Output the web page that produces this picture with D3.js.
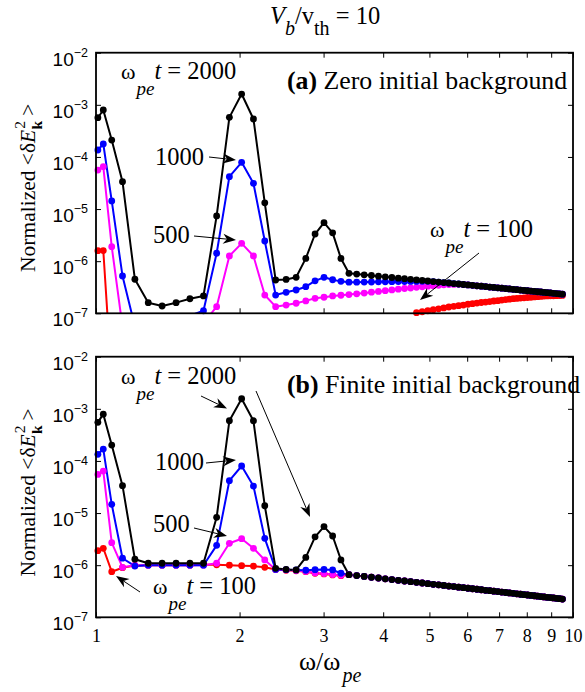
<!DOCTYPE html>
<html>
<head>
<meta charset="utf-8">
<script src="https://cdn.jsdelivr.net/npm/d3@7"></script>
<style>
  html, body { margin: 0; padding: 0; background: #fff; }
  svg { display: block; }
</style>
</head>
<body>
<svg id="chart" width="585" height="692"></svg>
<script>
// Frequency grid, omega / omega_pe
const omega = [
  1.0091, 1.0358, 1.0789, 1.1365, 1.2065, 1.2869, 1.3759, 1.4719, 1.5736, 1.6800,
  1.7903, 1.9038, 2.0199, 2.1383, 2.2585, 2.3802, 2.5034, 2.6277, 2.7531, 2.8792,
  3.0062, 3.1338, 3.2621, 3.3908, 3.5200, 3.6497, 3.7797, 3.9100, 4.0407, 4.1716,
  4.3029, 4.4342, 4.5659, 4.6977, 4.8297, 4.9618, 5.0941, 5.2266, 5.3591, 5.4918,
  5.6246, 5.7576, 5.8905, 6.0236, 6.1568, 6.2900, 6.4233, 6.5567, 6.6901, 6.8236,
  6.9573, 7.0909, 7.2246, 7.3582, 7.4920, 7.6258, 7.7597, 7.8936, 8.0275, 8.1615,
  8.2955, 8.4295, 8.5636, 8.6977, 8.8318, 8.9659, 9.1001, 9.2342, 9.3684, 9.5026
];

// (a) zero initial background: common high-frequency tail (points 24..70)
const topTail = [
  5.85e-7, 5.66e-7, 5.48e-7, 5.31e-7, 5.16e-7, 5.00e-7, 4.86e-7, 4.73e-7, 4.61e-7, 4.49e-7,
  4.37e-7, 4.27e-7, 4.17e-7, 4.07e-7, 3.98e-7, 3.89e-7, 3.81e-7, 3.72e-7, 3.65e-7, 3.57e-7,
  3.50e-7, 3.44e-7, 3.37e-7, 3.31e-7, 3.25e-7, 3.19e-7, 3.13e-7, 3.08e-7, 3.03e-7, 2.98e-7,
  2.93e-7, 2.88e-7, 2.84e-7, 2.79e-7, 2.75e-7, 2.71e-7, 2.67e-7, 2.63e-7, 2.59e-7, 2.56e-7,
  2.52e-7, 2.49e-7, 2.46e-7, 2.42e-7, 2.39e-7, 2.36e-7, 2.33e-7
];
const topT2000 = [
  5.66e-4, 7.96e-4, 2.11e-4, 3.35e-5, 4.5e-7, 1.6e-7, 1.38e-7, 1.6e-7, 1.9e-7, 2.15e-7,
  7.4e-6, 5.75e-4, 1.61e-3, 5.35e-4, 1.32e-5, 4.35e-7, 4.47e-7, 4.9e-7, 1.13e-6, 3.32e-6,
  5.47e-6, 3.5e-6, 1.13e-6
].concat(topTail);
const topT1000 = [
  1.36e-4, 1.77e-4, 1.43e-5, 5.2e-7, 5.6e-8, null, null, null, 9e-8, 1.12e-7,
  1.42e-6, 4.18e-5, 7.9e-5, 3.12e-5, 2.44e-6, 2.24e-7, 2.53e-7, 2.8e-7, 3.24e-7, 4.2e-7,
  4.9e-7, 4.4e-7, 4.1e-7, 3.95e-7, 3.95e-7, 3.97e-7, 3.99e-7, 4.01e-7, 4.03e-7, 4.05e-7,
  4.06e-7, 4.07e-7, 4.08e-7, 4.09e-7, 4.1e-7, 4.1e-7
].concat(topTail.slice(13));
const topT500 = [
  5.6e-5, 6.5e-5, 1.9e-6, 5.5e-8, null, null, null, null, null, 6.5e-8,
  1.34e-7, 1.26e-6, 2.2e-6, 1.26e-6, 2.24e-7, 1.34e-7, 1.44e-7, 1.56e-7, 1.73e-7, 1.94e-7,
  2.03e-7, 2.15e-7, 2.22e-7, 2.29e-7, 2.36e-7, 2.44e-7, 2.54e-7, 2.63e-7, 2.72e-7, 2.81e-7,
  2.90e-7, 2.99e-7, 3.06e-7, 3.15e-7, 3.23e-7, 3.31e-7, 3.39e-7, 3.45e-7, 3.52e-7, 3.56e-7,
  3.58e-7, 3.6e-7
].concat(topTail.slice(19));
const topT100 = [
  1.59e-6, 1.6e-6, 5e-9, null, null, null, null, null, null, null,
  null, null, null, null, null, null, null, null, null, null,
  null, null, null, null, null, null, null, null, null, null,
  null, null, null, 1.03e-7, 1.07e-7, 1.12e-7, 1.17e-7, 1.22e-7, 1.27e-7, 1.32e-7,
  1.36e-7, 1.40e-7, 1.44e-7, 1.49e-7, 1.53e-7, 1.57e-7, 1.61e-7, 1.64e-7, 1.68e-7, 1.72e-7,
  1.75e-7, 1.79e-7, 1.83e-7, 1.87e-7, 1.91e-7, 1.93e-7, 1.96e-7, 1.98e-7, 2.01e-7, 2.03e-7,
  2.06e-7, 2.08e-7, 2.11e-7, 2.14e-7, 2.15e-7, 2.16e-7, 2.17e-7, 2.18e-7, 2.19e-7, 2.2e-7
];

// (b) finite initial background: common high-frequency tail (points 24..70)
const botTail = [
  6.58e-7, 6.33e-7, 6.09e-7, 5.87e-7, 5.67e-7, 5.48e-7, 5.30e-7, 5.13e-7, 4.97e-7, 4.82e-7,
  4.68e-7, 4.55e-7, 4.42e-7, 4.30e-7, 4.19e-7, 4.08e-7, 3.98e-7, 3.88e-7, 3.79e-7, 3.70e-7,
  3.61e-7, 3.53e-7, 3.45e-7, 3.38e-7, 3.30e-7, 3.24e-7, 3.17e-7, 3.11e-7, 3.05e-7, 2.99e-7,
  2.93e-7, 2.88e-7, 2.82e-7, 2.77e-7, 2.72e-7, 2.68e-7, 2.63e-7, 2.59e-7, 2.54e-7, 2.50e-7,
  2.46e-7, 2.42e-7, 2.39e-7, 2.35e-7, 2.31e-7, 2.28e-7, 2.24e-7
];
const botT2000 = [
  5.5e-4, 7.9e-4, 2.02e-4, 3.35e-5, 1.3e-6, 1.09e-6, 1.09e-6, 1.09e-6, 1.09e-6, 1.09e-6,
  8.3e-6, 5.9e-4, 1.56e-3, 5.9e-4, 1.38e-5, 8.7e-7, 8.3e-7, 8.1e-7, 1.41e-6, 3.5e-6,
  5.5e-6, 3.63e-6, 1.26e-6
].concat(botTail);
const botT1000 = [
  1.34e-4, 1.69e-4, 1.47e-5, 1.36e-6, 9.6e-7, 1.0e-6, 1.0e-6, 1.0e-6, 1.0e-6, 1.0e-6,
  2.4e-6, 4.18e-5, 8.0e-5, 3.3e-5, 3.27e-6, 8.3e-7, 8.2e-7, 8.1e-7, 8.0e-7, 8.2e-7,
  8.3e-7, 8.1e-7, 7.0e-7
].concat(botTail);
const botT500 = [
  5.5e-5, 6.4e-5, 2.7e-6, 9.1e-7, 1.0e-6, 1.0e-6, 1.0e-6, 1.0e-6, 1.0e-6, 1.0e-6,
  1.09e-6, 2.63e-6, 3.22e-6, 2.11e-6, 1.26e-6, 8.3e-7, 8.1e-7, 7.9e-7, 7.6e-7, 7.1e-7,
  6.9e-7, 6.6e-7, 6.4e-7
].concat(botTail);
const botT100 = [
  1.9e-6, 2.11e-6, 7.5e-7, 8.95e-7, 9.8e-7, 1.0e-6, 1.0e-6, 1.0e-6, 1.0e-6, 1.02e-6,
  1.02e-6, 1.0e-6, 9.8e-7, 9.6e-7, 9.1e-7, 8.3e-7, 8.0e-7, 7.8e-7, 7.5e-7, 7.0e-7,
  6.8e-7, 6.5e-7, 6.3e-7
].concat(botTail);

const xTicks = [1, 2, 3, 4, 5, 6, 7, 8, 9, 10];
const yTicks = [1e-7, 1e-6, 1e-5, 1e-4, 1e-3, 1e-2];
const yTickExps = ["−7", "−6", "−5", "−4", "−3", "−2"];

const SERIF = "'Liberation Serif', 'Times New Roman', serif";
const SANS = "'Liberation Sans', Arial, sans-serif";

const svg = d3.select("#chart");
const x = d3.scaleLog().domain([1, 10]).range([96, 573]);

// Draw a MATLAB-style annotation arrow with a notched filled head
function arrow(g, x1, y1, x2, y2, headLen = 13, headW = 5) {
  const a = Math.atan2(y2 - y1, x2 - x1);
  const c = Math.cos(a), s = Math.sin(a);
  const bx = x2 - headLen * c, by = y2 - headLen * s;
  const nx = x2 - headLen * 0.7 * c, ny = y2 - headLen * 0.7 * s;
  g.append("line").attr("x1", x1).attr("y1", y1).attr("x2", nx).attr("y2", ny)
    .attr("stroke", "#000").attr("stroke-width", 1);
  g.append("path")
    .attr("d", `M${x2},${y2}L${bx - headW * s},${by + headW * c}L${nx},${ny}L${bx + headW * s},${by - headW * c}Z`)
    .attr("fill", "#000");
}

function omegaLabel(g, tx, ty, tail) {
  const t = g.append("text").attr("x", tx).attr("y", ty)
    .attr("font-family", SERIF).attr("font-size", 24.5).attr("fill", "#000");
  t.append("tspan").attr("font-size", 22).text("ω");
  t.append("tspan").attr("font-style", "italic").attr("font-size", 19).attr("dy", 16).attr("dx", 1).text("pe");
  t.append("tspan").attr("font-style", "italic").attr("dy", -16).text("t");
  t.append("tspan").text(" = " + tail);
}

function panel(y0, y1, series, opts) {
  const y = d3.scaleLog().domain([1e-7, 1e-2]).range([y1, y0]);
  const g = svg.append("g");
  const clipId = "clip" + opts.id;
  svg.append("defs").append("clipPath").attr("id", clipId)
    .append("rect").attr("x", 96).attr("y", y0).attr("width", 477).attr("height", y1 - y0);

  // inward ticks on all four sides
  const tickStyle = sel => {
    sel.select(".domain").remove();
    sel.selectAll(".tick line").attr("stroke", "#000").attr("stroke-width", 1);
  };
  g.append("g").attr("transform", `translate(0,${y1})`)
    .call(d3.axisBottom(x).tickValues(xTicks).tickSize(-5).tickFormat(opts.xLabels ? d3.format("d") : ""))
    .call(tickStyle)
    .call(s => s.selectAll(".tick text").attr("font-family", SERIF).attr("font-size", 18)
      .attr("fill", "#000").attr("y", 12).attr("dy", "0.71em"));
  g.append("g").attr("transform", `translate(0,${y0})`)
    .call(d3.axisTop(x).tickValues(xTicks).tickSize(-5).tickFormat(""))
    .call(tickStyle);
  const yl = g.append("g").attr("transform", "translate(96,0)")
    .call(d3.axisLeft(y).tickValues(yTicks).tickSize(-5).tickFormat(""))
    .call(tickStyle);
  g.append("g").attr("transform", "translate(573,0)")
    .call(d3.axisRight(y).tickValues(yTicks).tickSize(-5).tickFormat(""))
    .call(tickStyle);

  // decade labels 10^n
  yl.selectAll(".tick").each(function (d, i) {
    const t = d3.select(this).append("text")
      .attr("x", -8).attr("y", 12.5).attr("text-anchor", "end")
      .attr("font-family", SANS).attr("font-size", 19).attr("fill", "#000");
    t.append("tspan").text("10");
    t.append("tspan").attr("font-size", 12.5).attr("dy", -9).text(yTickExps[i]);
  });

  // data
  const plot = g.append("g").attr("clip-path", `url(#${clipId})`);
  const line = d3.line()
    .defined(d => d.v != null)
    .x(d => x(d.w)).y(d => y(d.v));
  series.forEach(sr => {
    const pts = omega.map((w, i) => ({ w, v: sr.values[i] }));
    plot.append("path").datum(pts).attr("d", line)
      .attr("fill", "none").attr("stroke", sr.color).attr("stroke-width", 2)
      .attr("stroke-linejoin", "round");
    g.append("g").selectAll("circle")
      .data(pts.filter(d => d.v != null && d.v >= 1e-7))
      .join("circle")
      .attr("cx", d => x(d.w)).attr("cy", d => y(d.v)).attr("r", 3.4)
      .attr("fill", sr.color);
  });

  // frame
  g.append("rect").attr("x", 96).attr("y", y0).attr("width", 477).attr("height", y1 - y0)
    .attr("fill", "none").attr("stroke", "#000").attr("stroke-width", 1.8);

  // y-axis title
  const yt = g.append("text")
    .attr("transform", `translate(34.5,${opts.yLabelStart}) rotate(-90)`)
    .attr("font-family", SERIF).attr("font-size", 21.5).attr("fill", "#000");
  yt.append("tspan").text("Normalized <δ");
  yt.append("tspan").attr("font-style", "italic").text("E");
  yt.append("tspan").attr("font-size", 15.5).attr("dy", -10).attr("dx", 1).text("2");
  yt.append("tspan").attr("font-size", 15.5).attr("font-weight", "bold").attr("dy", 17).attr("dx", -8.5).text("k");
  yt.append("tspan").attr("dy", -7).attr("dx", 5).text(">");

  return { g, y };
}

const panelA = panel(52.7, 313.3, [
  { color: "#ff0000", values: topT100 },
  { color: "#ff00ff", values: topT500 },
  { color: "#0000ff", values: topT1000 },
  { color: "#000000", values: topT2000 }
], { id: "a", xLabels: false, yLabelStart: 272 });

const panelB = panel(356.7, 617.3, [
  { color: "#ff0000", values: botT100 },
  { color: "#ff00ff", values: botT500 },
  { color: "#0000ff", values: botT1000 },
  { color: "#000000", values: botT2000 }
], { id: "b", xLabels: true, yLabelStart: 576.6 });

// Panel (a) annotations
const ga = svg.append("g");
omegaLabel(ga, 121, 79, "2000");
const ta = ga.append("text").attr("x", 287).attr("y", 88.5)
  .attr("font-family", SERIF).attr("font-size", 25.8).attr("fill", "#000");
ta.append("tspan").attr("font-weight", "bold").text("(a)");
ta.append("tspan").text(" Zero initial background");
ga.append("text").attr("x", 155).attr("y", 165).attr("font-family", SERIF).attr("font-size", 24.5).text("1000");
arrow(ga, 209, 157, 236, 160);
ga.append("text").attr("x", 153).attr("y", 243).attr("font-family", SERIF).attr("font-size", 24.5).text("500");
arrow(ga, 194, 236, 236, 240);
omegaLabel(ga, 430, 237, "100");
arrow(ga, 479, 253, 420, 300);

// Panel (b) annotations
const gb = svg.append("g");
omegaLabel(gb, 121, 383.5, "2000");
const tb = gb.append("text").attr("x", 287).attr("y", 393)
  .attr("font-family", SERIF).attr("font-size", 25.8).attr("fill", "#000");
tb.append("tspan").attr("font-weight", "bold").text("(b)");
tb.append("tspan").text(" Finite initial background");
arrow(gb, 201, 396, 227, 408.5);
arrow(gb, 256, 391, 310, 517);
gb.append("text").attr("x", 155).attr("y", 470).attr("font-family", SERIF).attr("font-size", 24.5).text("1000");
arrow(gb, 206, 463, 236, 460);
gb.append("text").attr("x", 153).attr("y", 532).attr("font-family", SERIF).attr("font-size", 24.5).text("500");
arrow(gb, 194, 528, 227, 536);
omegaLabel(gb, 153, 593.5, "100");
arrow(gb, 140, 592, 116, 576);

// Title
const title = svg.append("text").attr("x", 270).attr("y", 23.5)
  .attr("font-family", SERIF).attr("font-size", 24.5).attr("fill", "#000");
title.append("tspan").attr("font-style", "italic").text("V");
title.append("tspan").attr("font-style", "italic").attr("font-size", 20).attr("dy", 11).text("b");
title.append("tspan").attr("dy", -11).text("/v");
title.append("tspan").attr("font-size", 20).attr("dy", 11).text("th");
title.append("tspan").attr("dy", -11).text(" = 10");

// x-axis title
const xt = svg.append("text").attr("x", 299).attr("y", 670)
  .attr("font-family", SERIF).attr("font-size", 26).attr("fill", "#000");
xt.append("tspan").text("ω/ω");
xt.append("tspan").attr("font-style", "italic").attr("font-size", 20).attr("dy", 12).attr("dx", 2).text("pe");
</script>
</body>
</html>
